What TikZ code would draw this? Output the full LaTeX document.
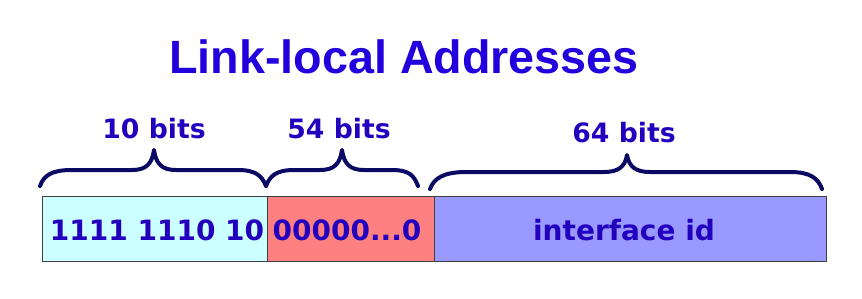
\documentclass[tikz,border=0pt]{standalone}
\usepackage{fontspec}
\setmainfont{Liberation Sans}
\newfontfamily\labelfont{DejaVu Sans}
\usepackage{tikz}

\definecolor{titleblue}{RGB}{34,0,221}
\definecolor{labelblue}{RGB}{34,0,190}
\definecolor{bracenavy}{RGB}{10,10,100}
\definecolor{prefixcyan}{RGB}{204,255,255}
\definecolor{zerored}{RGB}{255,128,128}
\definecolor{idblue}{RGB}{153,153,255}

\tikzset{
  brace/.style={draw=bracenavy, line width=3pt, line cap=round, line join=round},
  field/.style={draw=black!75, line width=0.6pt},
  bitlabel/.style={text=labelblue, font=\labelfont\bfseries\fontsize{20}{24}\selectfont, inner sep=0.75pt},
  fieldtext/.style={text=labelblue, font=\labelfont\bfseries\fontsize{21}{25}\selectfont, inner sep=0.75pt}
}

\begin{document}
\begin{tikzpicture}[x=0.75pt,y=0.75pt,yscale=-1,xscale=1]
    \useasboundingbox (0,0) rectangle (862,298);

    % Title
    \node [text=titleblue, font=\bfseries\fontsize{35}{40}\selectfont, inner sep=0pt] (title) at (404,57) {Link-local Addresses};

    %Shape: Field boxes
    \draw [field, fill=prefixcyan] (42.5,196.5) rectangle (267,261);
    \draw [field, fill=zerored] (267,196.5) rectangle (434,261);
    \draw [field, fill=idblue] (434,196.5) rectangle (826,261);

    %Shape: Brace over prefix
    \draw [brace] (40,186) .. controls (44,175) and (52,170) .. (72,170) -- (132,170) .. controls (146,170) and (152,164) .. (154,150) .. controls (156,164) and (162,170) .. (176,170) -- (238,170) .. controls (256,170) and (262,176) .. (266,186);
    %Shape: Brace over zero bits
    \draw [brace] (266,186) .. controls (270,176) and (276,170) .. (294,170) -- (320,170) .. controls (334,170) and (340,164) .. (342,150) .. controls (344,164) and (350,170) .. (364,170) -- (392,170) .. controls (410,170) and (414,176) .. (418,186);
    %Shape: Brace over interface id
    \draw [brace] (430,189) .. controls (434,178) and (444,172) .. (466,172) -- (604,172) .. controls (618,172) and (625,167) .. (627,155) .. controls (629,167) and (636,172) .. (650,172) -- (790,172) .. controls (810,172) and (818,178) .. (822,189);

    % Text Node
    \node [bitlabel] (bits10) at (154,129) {10 bits};
    % Text Node
    \node [bitlabel] (bits54) at (339,129) {54 bits};
    % Text Node
    \node [bitlabel] (bits64) at (624,133) {64 bits};

    % Text Node
    \node [fieldtext] (prefix) at (157,230) {1111 1110 10};
    % Text Node
    \node [fieldtext] (zeros) at (347,230) {00000...0};
    % Text Node
    \node [fieldtext] (ifid) at (624,230) {interface id};

\end{tikzpicture}
\end{document}
